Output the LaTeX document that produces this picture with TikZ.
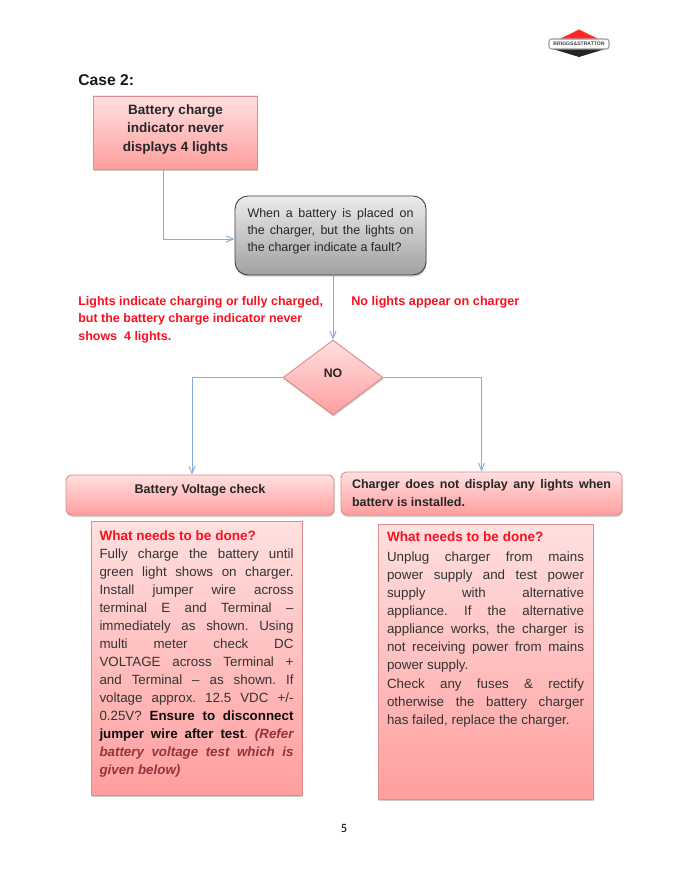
\documentclass[tikz,border=0pt]{standalone}
\usepackage{fontspec}
\setmainfont{Liberation Sans}
\newfontfamily\pageFont{Carlito}
\usetikzlibrary{shapes,calc,arrows,shadows}

\definecolor{boxTop}{RGB}{255,224,224}
\definecolor{boxBottom}{RGB}{255,158,158}
\definecolor{boxEdge}{RGB}{222,140,140}
\definecolor{greyTop}{RGB}{236,236,236}
\definecolor{greyBottom}{RGB}{160,160,160}
\definecolor{wireBlue}{RGB}{135,172,220}
\definecolor{labelRed}{RGB}{250,15,30}
\definecolor{noteBrown}{RGB}{150,50,60}

\tikzset{
  pinkBox/.style={draw=boxEdge, top color=boxTop, bottom color=boxBottom, line width=0.5pt,
    drop shadow={shadow xshift=0.3pt, shadow yshift=-1pt, opacity=0.4}},
  wire/.style={draw=wireBlue, line width=0.55pt, ->, >=angle 45},
  bodyText/.style={font=\fontsize{7.6}{10.25}\selectfont\frenchspacing, text=black!80}
}

\begin{document}
\begin{tikzpicture}
  % \draw[step=1.0,thin,gray!40] (0,0) grid (14,18);
  \useasboundingbox (0,0) rectangle (13.72,17.76);

  \fill[red!85] (10.99,16.88) -- (11.58,17.17) -- (12.17,16.88) -- cycle;
  \fill[black!85] (10.99,16.8) -- (11.58,16.62) -- (12.17,16.8) -- cycle;
  \node[draw=black!40, fill=white, line width=0.6pt, rounded corners=1.5pt, minimum width=1.2cm, minimum height=0.2cm, inner sep=0pt, text=black!75, font=\bfseries\fontsize{2.9}{3}\selectfont] (logoNode) at (11.58,16.88) {BRIGGS\&STRATTON};

  \node[anchor=west, inner sep=0pt, text=black!90, font=\bfseries\fontsize{8.9}{10}\selectfont] (caseNode) at (1.56,16.16) {Case 2:};

  \node[pinkBox, minimum width=3.28cm, minimum height=1.46cm, align=center, inner sep=0pt, text=black!85, font=\bfseries\fontsize{7.7}{10.5}\selectfont] (indicatorNode) at (3.51,15.11) {Battery charge\\indicator never\\displays 4 lights\par\vspace*{0.12cm}};

  \node[draw=black!75, top color=greyTop, bottom color=greyBottom, line width=0.5pt, rounded corners=0.26cm, drop shadow={shadow xshift=0.3pt, shadow yshift=-1pt, opacity=0.4}, minimum width=3.82cm, minimum height=1.58cm, text width=3.32cm, inner xsep=0pt, align=justify, text=black!85, font=\fontsize{7.1}{9.7}\selectfont] (questionNode) at (6.61,13.05) {When a battery is placed on\linebreak the charger, but the lights on\linebreak the charger indicate a fault?\par\vspace*{0.18cm}};

  \node[anchor=north west, inner sep=0pt, text=labelRed, align=left, font=\bfseries\fontsize{7.1}{9.95}\selectfont] (chargedNode) at (1.56,11.84) {Lights indicate charging or fully charged,\\but the battery charge indicator never\\shows\ \ 4 lights.};
  \node[anchor=north west, inner sep=0pt, text=labelRed, font=\bfseries\fontsize{7.2}{9.95}\selectfont] (noLightsNode) at (7.02,11.84) {No lights appear on charger};

  \node[pinkBox, diamond, minimum width=2.0cm, minimum height=1.5cm, inner sep=0pt, text=black!85, font=\bfseries\fontsize{7}{9}\selectfont] (noNode) at (6.66,10.21) {\raisebox{5pt}{NO}};

  \node[pinkBox, rounded corners=0.12cm, minimum width=5.36cm, minimum height=0.8cm, inner sep=0pt, text=black!85, font=\bfseries\fontsize{7.17}{9}\selectfont] (voltageNode) at (4.0,7.86) {\raisebox{7pt}{Battery Voltage check}};

  \node[pinkBox, rounded corners=0.12cm, minimum width=5.62cm, minimum height=0.86cm, text width=5.18cm, inner xsep=0pt, align=justify, text=black!85, font=\bfseries\fontsize{7.1}{10.2}\selectfont] (noDisplayNode) at (9.63,7.89) {Charger does not display any lights when\linebreak batterv is installed.};

  \node[pinkBox, bodyText, anchor=north, minimum width=4.22cm, minimum height=5.48cm, text width=3.88cm, inner xsep=0pt, inner ysep=0.14cm, align=justify] (voltageStepsNode) at (3.93,7.34) {%
    {\bfseries\fontsize{7.7}{10.25}\selectfont\color{labelRed}What needs to be done?}\\
    Fully charge the battery until\linebreak
    green light shows on charger.\linebreak
    Install jumper wire across\linebreak
    terminal E and Terminal --\linebreak
    immediately as shown. Using\linebreak
    multi meter check DC\linebreak
    VOLTAGE across Terminal +\linebreak
    and Terminal -- as shown. If\linebreak
    voltage approx. 12.5 VDC +/-\linebreak
    0.25V? {\bfseries\color{black!95}Ensure to disconnect\linebreak
    jumper wire after test}. {\bfseries\itshape\color{noteBrown}(Refer\linebreak
    battery voltage test which is\linebreak
    given below)}\par\vspace*{0.18cm}};

  \node[pinkBox, bodyText, anchor=north, minimum width=4.3cm, minimum height=5.5cm, text width=3.94cm, inner xsep=0pt, inner ysep=0.14cm, align=justify] (chargerStepsNode) at (9.71,7.28) {%
    {\bfseries\fontsize{7.7}{10.25}\selectfont\color{labelRed}What needs to be done?}\\[1pt]
    Unplug charger from mains\linebreak
    power supply and test power\linebreak
    supply with alternative\linebreak
    appliance. If the alternative\linebreak
    appliance works, the charger is\linebreak
    not receiving power from mains\linebreak
    power supply.\\[0.5pt]
    Check any fuses \& rectify\linebreak
    otherwise the battery charger\linebreak
    has failed, replace the charger.\par\vspace*{1.29cm}};

  \node[inner sep=0pt, font=\pageFont\fontsize{7.2}{9}\selectfont] (pageNode) at (6.88,1.2) {5};

  \draw[wire] ([xshift=-0.25cm]indicatorNode.south) |- ([yshift=-0.07cm]questionNode.west);
  \draw[wire] (questionNode.south -| noNode.north) -- (noNode.north);
  \draw[wire] (noNode.west) -| ([xshift=-0.16cm]voltageNode.north);
  \draw[wire] (noNode.east) -| (noDisplayNode.north);

\end{tikzpicture}
\end{document}
